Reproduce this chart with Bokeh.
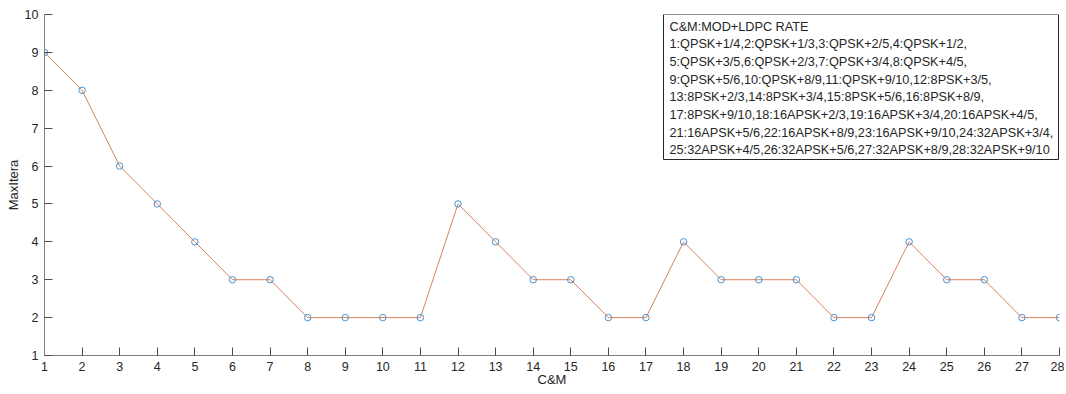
from bokeh.plotting import figure
from bokeh.models import Range1d, FixedTicker, Label, BoxAnnotation
from bokeh.embed import file_html
from bokeh.resources import INLINE

cm = list(range(1, 29))
maxitera = [9, 8, 6, 5, 4, 3, 3, 2, 2, 2, 2, 5, 4, 3, 3, 2, 2, 4, 3, 3, 3, 2, 2, 4, 3, 3, 2, 2]
y_ticks = list(range(1, 11))
legend_lines = [
    "C&M:MOD+LDPC RATE",
    "1:QPSK+1/4,2:QPSK+1/3,3:QPSK+2/5,4:QPSK+1/2,",
    "5:QPSK+3/5,6:QPSK+2/3,7:QPSK+3/4,8:QPSK+4/5,",
    "9:QPSK+5/6,10:QPSK+8/9,11:QPSK+9/10,12:8PSK+3/5,",
    "13:8PSK+2/3,14:8PSK+3/4,15:8PSK+5/6,16:8PSK+8/9,",
    "17:8PSK+9/10,18:16APSK+2/3,19:16APSK+3/4,20:16APSK+4/5,",
    "21:16APSK+5/6,22:16APSK+8/9,23:16APSK+9/10,24:32APSK+3/4,",
    "25:32APSK+4/5,26:32APSK+5/6,27:32APSK+8/9,28:32APSK+9/10",
]

FONT = "Liberation Sans"
W, H = 1064, 392
ML, MR, MT, MB = 44, 5, 14, 37

p = figure(width=W, height=H, output_backend="svg", toolbar_location=None,
           x_range=Range1d(1, 28), y_range=Range1d(1, 10),
           min_border_left=ML, min_border_right=MR, min_border_top=MT, min_border_bottom=MB)
p.outline_line_color = None
p.grid.grid_line_color = None
p.background_fill_color = "white"

for ax in (p.xaxis, p.yaxis):
    ax.axis_line_color = "#808080"
    ax.major_tick_line_color = "#4d4d4d"
    ax.major_tick_in = 8
    ax.major_tick_out = 0
    ax.minor_tick_line_color = None
    ax.major_label_text_font = FONT
    ax.major_label_text_font_size = "12.5px"
    ax.major_label_text_color = "#262626"
    ax.axis_label_text_font = FONT
    ax.axis_label_text_font_size = "13px"
    ax.axis_label_text_font_style = "normal"
    ax.axis_label_text_color = "#262626"

p.xaxis.ticker = FixedTicker(ticks=cm)
p.yaxis.ticker = FixedTicker(ticks=y_ticks)
p.xaxis.axis_label = "C&M"
p.yaxis.axis_label = "MaxItera"
p.xaxis.major_label_standoff = 6
p.yaxis.major_label_standoff = 6
p.xaxis.axis_label_standoff = -2
p.yaxis.axis_label_standoff = 1

p.line(cm, maxitera, line_color="#D9825B", line_width=1)
p.scatter(cm, maxitera, marker="circle", size=6.5, line_color="#4a92cc",
          fill_color=None, line_width=1)

# legend-like text box (screen units, relative to frame)
frame_h = H - MT - MB
box_left, box_w, box_h, line_h = 663 - ML, 395, 145, 17.7
box_top = frame_h
p.add_layout(BoxAnnotation(left=box_left, right=box_left + box_w,
                           top=box_top, bottom=box_top - box_h,
                           left_units="screen", right_units="screen",
                           top_units="screen", bottom_units="screen",
                           fill_color="white", fill_alpha=1.0,
                           line_color="#262626", line_width=1, line_alpha=1.0))
for i, t in enumerate(legend_lines):
    p.add_layout(Label(x=box_left + 6, y=box_top - 12 - i * line_h,
                       x_units="screen", y_units="screen", text=t,
                       text_font=FONT, text_font_size="12.7px", text_color="#262626",
                       text_baseline="middle", text_align="left"))

open("out.html", "w").write(file_html(p, INLINE))
